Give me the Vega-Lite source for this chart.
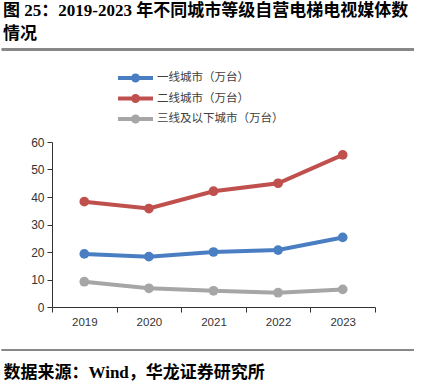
{
  "$schema": "https://vega.github.io/schema/vega-lite/v6.json",
  "width": 323,
  "height": 165,
  "autosize": {"type": "none"},
  "padding": {"left": 52, "top": 142, "right": 48, "bottom": 79},
  "background": "white",
  "config": {"view": {"stroke": null}},
  "title": {
    "text": ["图 25：2019-2023 年不同城市等级自营电梯电视媒体数", "情况"],
    "anchor": "start",
    "frame": "group",
    "dx": -49,
    "font": "Liberation Serif, Noto Sans CJK SC",
    "fontWeight": "bold",
    "fontSize": 17,
    "lineHeight": 23,
    "color": "#000000",
    "offset": 0,
    "dy": -6
  },
  "data": {
    "values": [
      {"year": "2019", "series": "一线城市（万台）", "value": 19.3},
      {"year": "2020", "series": "一线城市（万台）", "value": 18.3},
      {"year": "2021", "series": "一线城市（万台）", "value": 20.0},
      {"year": "2022", "series": "一线城市（万台）", "value": 20.7},
      {"year": "2023", "series": "一线城市（万台）", "value": 25.3},
      {"year": "2019", "series": "二线城市（万台）", "value": 38.3},
      {"year": "2020", "series": "二线城市（万台）", "value": 35.8},
      {"year": "2021", "series": "二线城市（万台）", "value": 42.1},
      {"year": "2022", "series": "二线城市（万台）", "value": 45.0},
      {"year": "2023", "series": "二线城市（万台）", "value": 55.3},
      {"year": "2019", "series": "三线及以下城市（万台）", "value": 9.2},
      {"year": "2020", "series": "三线及以下城市（万台）", "value": 6.8},
      {"year": "2021", "series": "三线及以下城市（万台）", "value": 5.9},
      {"year": "2022", "series": "三线及以下城市（万台）", "value": 5.2},
      {"year": "2023", "series": "三线及以下城市（万台）", "value": 6.4}
    ]
  },
  "layer": [
    {
      "encoding": {
        "x": {
          "field": "year",
          "type": "ordinal",
          "scale": {"type": "band", "paddingInner": 0, "paddingOuter": 0},
          "axis": {
            "title": "数据来源：Wind，华龙证券研究所",
            "titleFont": "Liberation Serif, Noto Sans CJK SC",
            "titleFontWeight": "bold",
            "titleFontSize": 17,
            "titleColor": "#000000",
            "titleAnchor": "start",
            "titleAlign": "left",
            "titleBaseline": "alphabetic",
            "titleX": -49,
            "titleY": 70,
            "labelAngle": 0,
            "labelFont": "Liberation Sans",
            "labelFontSize": 11.5,
            "labelColor": "#333333",
            "labelPadding": 4,
            "tickBand": "extent",
            "tickSize": 5,
            "tickColor": "#333333",
            "domainColor": "#333333",
            "grid": false
          }
        },
        "y": {
          "field": "value",
          "type": "quantitative",
          "scale": {"domain": [0, 60]},
          "axis": {
            "title": null,
            "values": [0, 10, 20, 30, 40, 50, 60],
            "labelFont": "Liberation Sans",
            "labelFontSize": 12,
            "labelColor": "#333333",
            "labelPadding": 3,
            "tickSize": 5,
            "tickColor": "#333333",
            "domainColor": "#333333",
            "grid": false
          }
        },
        "color": {
          "field": "series",
          "type": "nominal",
          "sort": ["一线城市（万台）", "二线城市（万台）", "三线及以下城市（万台）"],
          "scale": {
            "domain": ["一线城市（万台）", "二线城市（万台）", "三线及以下城市（万台）"],
            "range": ["#4a7ec2", "#c0504d", "#a6a6a6"]
          },
          "legend": {
            "orient": "none",
            "legendX": 83,
            "legendY": -73,
            "title": null,
            "padding": 0,
            "symbolType": "M-2.89,-0.22H1V0.22H-2.89Z M-0.44,0A0.5,0.5,0,1,1,-1.44,0A0.5,0.5,0,1,1,-0.44,0Z",
            "symbolSize": 324,
            "symbolStrokeWidth": 0,
            "rowPadding": 5.5,
            "labelOffset": 4,
            "labelFont": "Noto Sans CJK SC",
            "labelFontSize": 11.5,
            "labelColor": "#404040",
            "encode": {
              "symbols": {
                "update": {
                  "fill": {"scale": "color", "field": "value"},
                  "stroke": {"value": "transparent"},
                  "opacity": {"value": 1}
                }
              }
            }
          }
        }
      },
      "layer": [
        {"mark": {"type": "line", "strokeWidth": 4}},
        {"mark": {"type": "point", "filled": true, "size": 95, "opacity": 1, "shape": "circle"}}
      ]
    },
    {
      "mark": {"type": "rule", "color": "#888888", "strokeWidth": 2},
      "encoding": {
        "y": {"datum": 93.6, "type": "quantitative", "axis": {"title": null, "values": [0, 10, 20, 30, 40, 50, 60]}},
        "x": {"datum": -0.155, "type": "quantitative", "scale": {"domain": [0, 1]}, "axis": null},
        "x2": {"datum": 1.12}
      }
    },
    {
      "mark": {"type": "rule", "color": "#888888", "strokeWidth": 2},
      "encoding": {
        "y": {"datum": -15.6, "type": "quantitative", "axis": {"title": null, "values": [0, 10, 20, 30, 40, 50, 60]}},
        "x": {"datum": -0.155, "type": "quantitative", "scale": {"domain": [0, 1]}, "axis": null},
        "x2": {"datum": 1.12}
      }
    }
  ],
  "resolve": {"scale": {"x": "independent"}, "axis": {"x": "independent"}}
}
